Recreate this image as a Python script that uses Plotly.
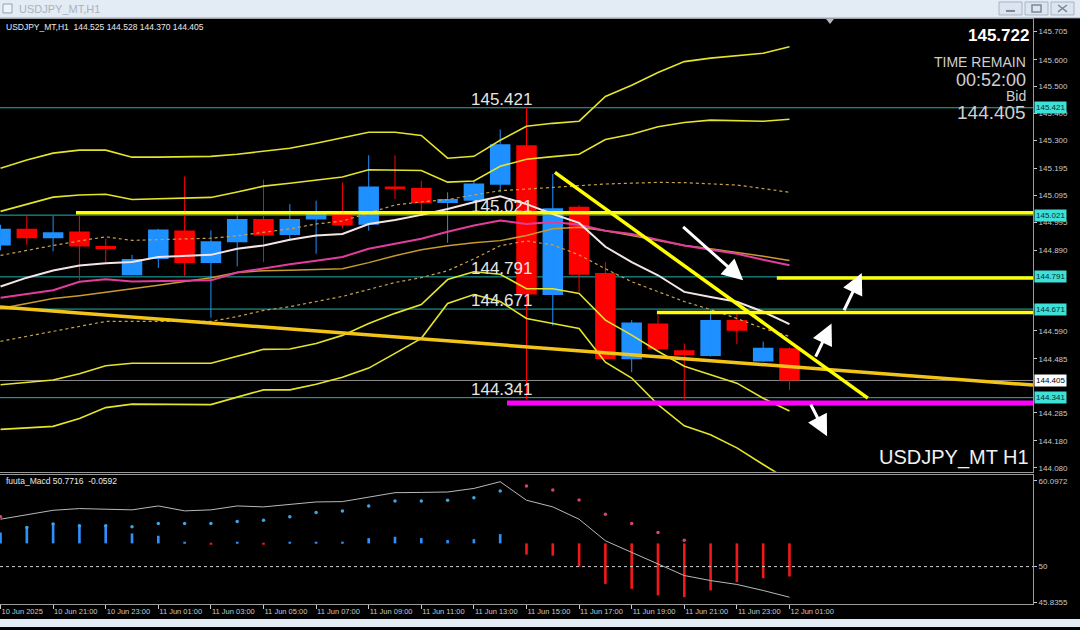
import plotly.graph_objects as go

W, H = 1080, 630

# ---------------- data ----------------
bars = list(range(31))
opens  = [144.908,144.970,144.935,144.960,144.906,144.797,144.858,144.964,144.843,144.920,
          145.007,144.947,145.005,145.025,144.985,145.128,145.122,145.066,145.075,145.134,
          145.281,144.723,145.052,144.805,144.484,144.617,144.518,144.496,144.630,144.476,144.525]
highs  = [144.985,145.017,145.019,145.022,144.933,144.873,144.970,145.165,144.964,145.025,
          145.153,145.062,145.075,145.143,145.244,145.244,145.149,145.106,145.150,145.340,
          145.421,145.174,145.058,144.846,144.630,144.648,144.543,144.667,144.661,144.550,144.528]
lows   = [144.890,144.910,144.886,144.778,144.846,144.797,144.824,144.794,144.639,144.830,
          144.846,144.926,144.877,144.972,144.963,145.081,145.032,144.918,145.070,145.106,
          144.335,144.609,144.735,144.484,144.436,144.518,144.333,144.494,144.541,144.474,144.370]
closes = [144.970,144.935,144.957,144.904,144.895,144.858,144.967,144.843,144.924,145.007,
          144.945,145.007,145.029,144.982,145.128,145.118,145.066,145.081,145.139,145.285,
          144.725,145.047,144.799,144.485,144.621,144.521,144.500,144.630,144.590,144.527,144.405]

band_outer_up = [145.196,145.226,145.252,145.263,145.263,145.237,145.237,145.239,145.240,145.248,
                 145.259,145.270,145.289,145.309,145.330,145.330,145.318,145.233,145.240,145.300,
                 145.352,145.363,145.371,145.463,145.505,145.552,145.593,145.606,145.615,145.624,145.648]
band_inner_up = [145.035,145.062,145.088,145.096,145.099,145.079,145.081,145.083,145.087,145.107,
                 145.129,145.140,145.151,145.163,145.190,145.188,145.187,145.144,145.148,145.203,
                 145.229,145.239,145.248,145.303,145.322,145.350,145.366,145.375,145.372,145.371,145.378]
band_inner_lo = [144.389,144.399,144.407,144.430,144.460,144.469,144.469,144.469,144.469,144.495,
                 144.521,144.522,144.543,144.573,144.617,144.655,144.688,144.781,144.810,144.801,
                 144.747,144.747,144.729,144.630,144.574,144.514,144.458,144.426,144.395,144.339,144.291]
band_outer_lo = [144.223,144.228,144.234,144.263,144.304,144.317,144.317,144.315,144.315,144.343,
                 144.370,144.370,144.391,144.417,144.451,144.506,144.562,144.692,144.725,144.699,
                 144.636,144.617,144.599,144.473,144.414,144.315,144.236,144.203,144.154,144.092,144.032]
dash_upper = [144.871,144.890,144.908,144.925,144.940,144.927,144.929,144.933,144.935,144.944,
              144.957,144.970,144.988,144.999,145.029,145.059,145.070,145.079,145.096,145.112,
              145.118,145.124,145.130,145.137,145.140,145.143,145.142,145.138,145.133,145.120,145.106]
dash_lower = [144.551,144.569,144.588,144.606,144.625,144.625,144.625,144.625,144.625,144.643,
              144.666,144.680,144.699,144.718,144.744,144.770,144.788,144.814,144.858,144.907,
              144.925,144.910,144.873,144.821,144.773,144.736,144.699,144.669,144.636,144.599,144.569]
ma_white = [144.755,144.788,144.815,144.833,144.842,144.846,144.865,144.870,144.873,144.896,
            144.908,144.929,144.945,144.951,144.988,145.003,145.022,145.044,145.069,145.091,
            145.062,145.025,144.992,144.903,144.846,144.797,144.735,144.716,144.698,144.661,144.615]
ma_magenta = [144.713,144.727,144.741,144.773,144.782,144.774,144.775,144.777,144.778,144.807,
              144.823,144.838,144.851,144.865,144.896,144.914,144.933,144.959,144.982,145.001,
              144.988,144.995,144.985,144.963,144.951,144.929,144.908,144.892,144.877,144.855,144.834]
ma_orange = [144.673,144.692,144.710,144.721,144.735,144.747,144.760,144.773,144.788,144.807,
             144.814,144.816,144.818,144.821,144.844,144.870,144.892,144.907,144.918,144.926,
             144.945,144.970,144.976,144.963,144.945,144.926,144.908,144.896,144.883,144.868,144.852]

# oscillator panel
osc_line = [55.57,56.10,56.62,56.82,56.75,56.67,57.13,56.55,56.67,57.13,
            57.02,57.30,57.60,57.64,58.20,58.69,58.72,58.77,59.19,59.98,
            57.80,57.02,55.57,53.04,51.67,50.30,48.95,48.36,47.90,47.19,46.40]
osc_dots_up = [None,54.6,55.0,54.8,54.8,54.68,55.06,55.06,55.06,55.30,
               55.45,55.85,56.35,56.55,57.13,57.72,57.72,57.79,58.10,58.89,
               None,None,None,None,None,None,None,None,None,None,None]
osc_dots_dn = [55.85,None,None,None,None,None,None,None,None,None,
               None,None,None,None,None,None,None,None,None,None,
               59.47,59.00,57.84,56.15,55.06,54.00,53.10,None,None,None,None]
osc_hist = [1.29,1.87,2.26,2.07,2.07,1.17,0.90,0.12,-0.12,0.12,
            -0.12,0.12,0.12,0.12,0.62,0.78,0.62,0.39,0.50,1.09,
            -1.32,-1.44,-2.73,-4.76,-5.35,-6.12,-6.32,-5.53,-4.56,-4.09,-3.90]
osc_hist_base = 52.73
osc_level = 50

# horizontal levels with labels
level_prices = [145.421, 145.021, 144.791, 144.671, 144.341]
level_texts = ["145.421", "145.021", "144.791", "144.671", "144.341"]
bid_price = 144.405

# drawn objects (bar index, price)
gold_trend_x = [-0.02, 39.26]
gold_trend_y = [144.6785, 144.388]
down_trend_x = [21.08, 32.98]
down_trend_y = [145.180, 144.339]
hline_yellow = [(2.87, 145.030), (29.52, 144.787), (24.96, 144.658)]
hline_magenta = (19.26, 144.321)
arrows = [  # (tail_x, tail_y, head_x, head_y)
    (25.90, 144.982, 28.24, 144.778),
    (32.05, 144.661, 32.75, 144.805),
    (30.97, 144.488, 31.60, 144.617),
    (30.78, 144.321, 31.43, 144.197),
]

price_ticks = [145.705,145.600,145.500,145.400,145.300,145.195,145.095,144.995,144.890,
               144.590,144.485,144.285,144.180,144.080]
osc_ticks = [60.0972, 50, 45.8355]
osc_tick_text = ["60.0972", "50", "45.8355"]
time_tick_bars = list(range(0, 31, 2))
time_tick_labels = ["10 Jun 2025", "10 Jun 21:00", "10 Jun 23:00", "11 Jun 01:00", "11 Jun 03:00",
                    "11 Jun 05:00", "11 Jun 07:00", "11 Jun 09:00", "11 Jun 11:00", "11 Jun 13:00",
                    "11 Jun 15:00", "11 Jun 17:00", "11 Jun 19:00", "11 Jun 21:00", "11 Jun 23:00",
                    "12 Jun 01:00"]

# ---------------- helpers ----------------
def px_x(p):
    return p / W

def px_y(p):
    return 1 - p / H

X_RIGHT = 1033
BLUE = "#1e90ff"
RED = "#ff0000"
FONT = "Liberation Sans"

fig = go.Figure()

# candle wicks
for col, cond in ((BLUE, lambda o, c: c >= o), (RED, lambda o, c: c < o)):
    wx, wy = [], []
    for i, o, h, l, c in zip(bars, opens, highs, lows, closes):
        if cond(o, c):
            wx += [i, i, None]
            wy += [l, h, None]
    fig.add_trace(go.Scatter(x=wx, y=wy, mode="lines", line=dict(color=col, width=1),
                             hoverinfo="skip", showlegend=False))

# candle bodies
fig.add_trace(go.Bar(
    x=bars,
    y=[max(abs(c - o), 0.003) for o, c in zip(opens, closes)],
    base=[min(o, c) for o, c in zip(opens, closes)],
    width=0.78,
    marker=dict(color=[BLUE if c >= o else RED for o, c in zip(opens, closes)], line=dict(width=0)),
    showlegend=False, hoverinfo="skip"))

# indicator lines
def line(y, color, width, dash="solid"):
    fig.add_trace(go.Scatter(x=bars, y=y, mode="lines", line=dict(color=color, width=width, dash=dash),
                             hoverinfo="skip", showlegend=False))

line(dash_lower, "#c9a24a", 1.2, "dot")
line(dash_upper, "#c9a24a", 1.2, "dot")
line(ma_orange, "#c99a2e", 1.5)
line(ma_magenta, "#e23c9c", 2)
line(ma_white, "#f4e4e4", 2)
for b in (band_outer_up, band_inner_up, band_inner_lo, band_outer_lo):
    line(b, "#e4e42a", 1.6)

# drawn objects
fig.add_trace(go.Scatter(x=gold_trend_x, y=gold_trend_y, mode="lines",
                         line=dict(color="#f2c417", width=3.5), hoverinfo="skip", showlegend=False))
for x0, yv in hline_yellow:
    fig.add_trace(go.Scatter(x=[x0, 39.3], y=[yv, yv], mode="lines",
                             line=dict(color="#ffff00", width=3.5), hoverinfo="skip", showlegend=False))
fig.add_trace(go.Scatter(x=[hline_magenta[0], 39.3], y=[hline_magenta[1]] * 2, mode="lines",
                         line=dict(color="#ff00ff", width=5), hoverinfo="skip", showlegend=False))
fig.add_trace(go.Scatter(x=down_trend_x, y=down_trend_y, mode="lines",
                         line=dict(color="#ffff00", width=3.5), hoverinfo="skip", showlegend=False))

# oscillator panel
fig.add_trace(go.Bar(
    x=bars, y=osc_hist, base=osc_hist_base, width=0.1,
    marker=dict(color=[("#2f8fff" if v > 0 else "#f01818") for v in osc_hist], line=dict(width=0)),
    xaxis="x2", yaxis="y2", showlegend=False, hoverinfo="skip"))
fig.add_trace(go.Scatter(x=[-0.02, 39.3], y=[osc_level, osc_level], mode="lines",
                         line=dict(color="#d0d0d0", width=1, dash="dot"),
                         xaxis="x2", yaxis="y2", showlegend=False, hoverinfo="skip"))
fig.add_trace(go.Scatter(x=bars, y=osc_line, mode="lines", line=dict(color="#b8b8b8", width=1),
                         xaxis="x2", yaxis="y2", showlegend=False, hoverinfo="skip"))
fig.add_trace(go.Scatter(x=bars, y=osc_dots_up, mode="markers", marker=dict(color="#3aa6e8", size=3.5),
                         xaxis="x2", yaxis="y2", showlegend=False, hoverinfo="skip"))
fig.add_trace(go.Scatter(x=bars, y=osc_dots_dn, mode="markers", marker=dict(color="#d8407a", size=3.5),
                         xaxis="x2", yaxis="y2", showlegend=False, hoverinfo="skip"))

shapes = []
# level lines
for lv in level_prices:
    shapes.append(dict(type="line", xref="paper", x0=0, x1=px_x(X_RIGHT), yref="y", y0=lv, y1=lv,
                       line=dict(color="#20b2aa", width=1), layer="below"))
shapes.append(dict(type="line", xref="paper", x0=0, x1=px_x(X_RIGHT), yref="y", y0=bid_price, y1=bid_price,
                   line=dict(color="#8c8c8c", width=1), layer="below"))

# window chrome
shapes += [
    dict(type="rect", xref="paper", yref="paper", x0=0, x1=1, y0=px_y(18), y1=1,
         fillcolor="#e3ebf4", line=dict(width=0), layer="above"),
    dict(type="line", xref="paper", yref="paper", x0=0, x1=1, y0=px_y(18), y1=px_y(18),
         line=dict(color="#a4aeba", width=1)),
    dict(type="rect", xref="paper", yref="paper", x0=0, x1=1, y0=0, y1=px_y(622),
         fillcolor="#e3ebf4", line=dict(width=0), layer="above"),
    dict(type="rect", xref="paper", yref="paper", x0=px_x(3), x1=px_x(12), y0=px_y(13), y1=px_y(4),
         fillcolor="#eef3f8", line=dict(color="#8ea3ba", width=1)),
]
for bx0 in (999, 1025, 1051):
    shapes.append(dict(type="rect", xref="paper", yref="paper", x0=px_x(bx0), x1=px_x(bx0 + 23),
                       y0=px_y(15), y1=px_y(2), fillcolor="#dbe4ef", line=dict(color="#a9b6c6", width=1)))
shapes += [
    dict(type="line", xref="paper", yref="paper", x0=px_x(1006), x1=px_x(1015), y0=px_y(11), y1=px_y(11),
         line=dict(color="#7d8896", width=2)),
    dict(type="rect", xref="paper", yref="paper", x0=px_x(1032), x1=px_x(1041), y0=px_y(12), y1=px_y(5),
         line=dict(color="#7d8896", width=1.5)),
    dict(type="line", xref="paper", yref="paper", x0=px_x(1058), x1=px_x(1067), y0=px_y(12), y1=px_y(5),
         line=dict(color="#7d8896", width=1.5)),
    dict(type="line", xref="paper", yref="paper", x0=px_x(1058), x1=px_x(1067), y0=px_y(5), y1=px_y(12),
         line=dict(color="#7d8896", width=1.5)),
    # chart shift marker
    dict(type="path", xref="paper", yref="paper",
         path=f"M {px_x(826)} {px_y(19)} L {px_x(834)} {px_y(19)} L {px_x(830)} {px_y(24)} Z",
         fillcolor="#b0b8c0", line=dict(width=0)),
]

ann = []
txt = "#e6e6e6"
for lv, t in zip(level_prices, level_texts):
    ann.append(dict(x=19.05, y=lv, xref="x", yref="y", text=t, showarrow=False, yanchor="bottom",
                    yshift=-3, font=dict(family=FONT, size=17, color=txt)))
# right axis price boxes
for lv, t in zip(level_prices, level_texts):
    ann.append(dict(x=px_x(1034), y=lv, xref="paper", yref="y", text=t, showarrow=False, xanchor="left",
                    yanchor="middle", bgcolor="#3fe0d8", borderpad=1,
                    font=dict(family=FONT, size=8, color="#0a2a2a")))
ann.append(dict(x=px_x(1034), y=bid_price, xref="paper", yref="y", text=f"{bid_price:.3f}", showarrow=False,
                xanchor="left", yanchor="middle", bgcolor="#ffffff", borderpad=1,
                font=dict(family=FONT, size=8, color="#000000")))

for tx, ty, hx, hy in arrows:
    ann.append(dict(x=hx, y=hy, ax=tx, ay=ty, xref="x", yref="y", axref="x", ayref="y", text="",
                    showarrow=True, arrowhead=2, arrowsize=1.4, arrowwidth=3, arrowcolor="#ffffff"))

def ptext(x, y, text, size, color, anchor="left", bold=False):
    return dict(x=px_x(x), y=px_y(y), xref="paper", yref="paper", xanchor=anchor, yanchor="middle",
                showarrow=False, text=(f"<b>{text}</b>" if bold else text),
                font=dict(family=FONT, size=size, color=color))

ann += [
    ptext(4, 27, "USDJPY_MT,H1\u00a0\u00a0144.525 144.528 144.370 144.405", 8.5, "#e8e8e8"),
    ptext(4, 483, "fuuta_Macd 50.7716\u00a0\u00a0-0.0592", 8.5, "#e8e8e8"),
    ptext(17, 9, "USDJPY_MT,H1", 11, "#a9b3be"),
    ptext(1031, 460, "USDJPY_MT H1", 20, "#f0f0f0", "right"),
    ptext(1031, 36, "145.722", 17, "#ffffff", "right", bold=True),
    ptext(1028, 62, "TIME REMAIN", 14, "#cfcfcf", "right"),
    ptext(1028, 80, "00:52:00", 18, "#cfcfcf", "right"),
    ptext(1028, 96, "Bid", 14, "#cfcfcf", "right"),
    ptext(1028, 113, "144.405", 19, "#cfcfcf", "right"),
]

xr = [-0.02, 39.26]
axis_col = "#9a9a9a"
tick_font = dict(family=FONT, size=8, color="#c8c8c8")

fig.update_layout(
    width=W, height=H,
    margin=dict(l=0, r=0, t=0, b=0),
    paper_bgcolor="#000000", plot_bgcolor="#000000",
    barmode="overlay", showlegend=False,
    shapes=shapes, annotations=ann,
    xaxis=dict(domain=[0, px_x(X_RIGHT)], range=xr, anchor="y", showgrid=False, zeroline=False,
               showticklabels=False, ticks="", showline=True, mirror=True, linecolor=axis_col),
    yaxis=dict(domain=[px_y(474), px_y(19)], range=[144.065, 145.752], anchor="x", side="right",
               showgrid=False, zeroline=False, tickvals=price_ticks,
               ticktext=[f"{v:.3f}" for v in price_ticks], ticks="outside", ticklen=3,
               tickcolor="#c8c8c8", tickfont=tick_font, showline=True, linecolor=axis_col),
    xaxis2=dict(domain=[0, px_x(X_RIGHT)], range=xr, anchor="y2", showgrid=False, zeroline=False,
                tickvals=time_tick_bars, ticktext=time_tick_labels, ticks="outside", ticklen=4,
                tickcolor="#c8c8c8", tickfont=dict(family=FONT, size=7.5, color="#c8c8c8"),
                ticklabelposition="outside right", showline=True, mirror=True, linecolor=axis_col),
    yaxis2=dict(domain=[px_y(607), px_y(477)], range=[45.59, 60.80], anchor="x2", side="right",
                showgrid=False, zeroline=False, tickvals=osc_ticks, ticktext=osc_tick_text,
                ticks="outside", ticklen=3, tickcolor="#c8c8c8", tickfont=tick_font,
                showline=True, linecolor=axis_col),
)

fig.write_html("out.html", config=dict(displayModeBar=False),
               post_script="document.body.style.margin='0';document.body.style.overflow='hidden';")
